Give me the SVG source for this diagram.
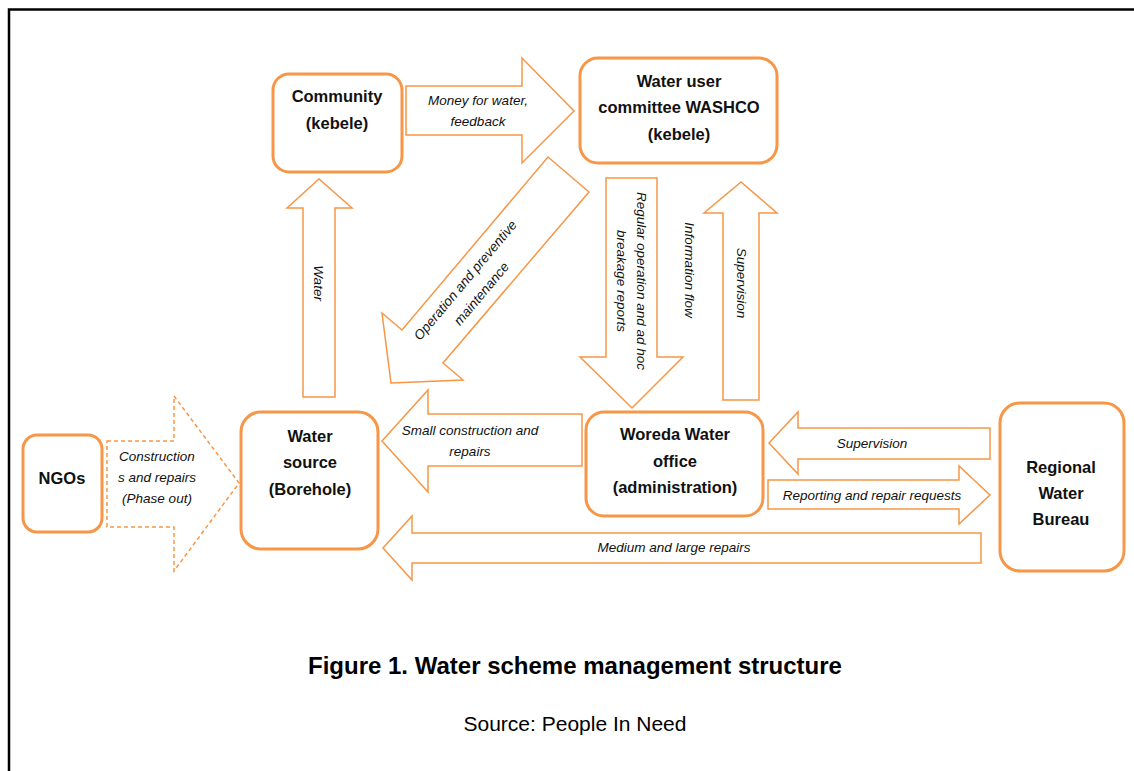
<svg xmlns="http://www.w3.org/2000/svg" width="1134" height="771" viewBox="0 0 1134 771">
<style>
.node{fill:#fff;stroke:#F79646;stroke-width:3}
.arr{fill:#fff;stroke:#F79646;stroke-width:1.5;stroke-linejoin:miter}
.dash{stroke-dasharray:4 3}
.nt{font-family:"Liberation Sans",Arial,sans-serif;font-weight:bold;font-size:16.5px;fill:#111;text-anchor:middle}
.lt{font-family:"Liberation Sans",Arial,sans-serif;font-style:italic;font-size:13.5px;fill:#111;text-anchor:middle}
.cap{font-family:"Liberation Sans",Arial,sans-serif;fill:#000;text-anchor:middle}
</style>
<rect width="1134" height="771" fill="#fff"/>
<path d="M9,771 V9.5 H1134" fill="none" stroke="#000" stroke-width="2.5"/>
<g id="connectors">
  <g id="money">
    <polygon class="arr" points="406,86 522,86 522,58 574,111 522,163 522,135 406,135"/>
    <text class="lt"><tspan x="478" y="105">Money for water,</tspan><tspan x="478" y="126">feedback</tspan></text>
  </g>
  <g id="water">
    <polygon class="arr" points="303,397 303,208 287,208 319,179 352,208 335,208 335,397"/>
    <text class="lt" transform="translate(319,283) rotate(90)" y="5">Water</text>
  </g>
  <g id="operation">
    <polygon class="arr" points="548,157 589,192 443,363 463,380 391,383 382,313 402,330"/>
    <text class="lt" transform="translate(465,280) rotate(-50)"><tspan x="0" y="5">Operation and preventive</tspan><tspan x="0" y="26">maintenance</tspan></text>
  </g>
  <g id="regular">
    <polygon class="arr" points="606,178 657,178 657,357 683,357 632,408 580,357 606,357"/>
    <text class="lt" transform="translate(632,281) rotate(90)"><tspan x="0" y="-5">Regular operation and ad hoc</tspan><tspan x="0" y="15">breakage reports</tspan></text>
  </g>
  <text class="lt" transform="translate(690,270) rotate(90)" y="5">Information flow</text>
  <g id="supervision-up">
    <polygon class="arr" points="723,400 723,213 704,213 741,182 777,213 759,213 759,400"/>
    <text class="lt" transform="translate(742,283) rotate(90)" y="5">Supervision</text>
  </g>
  <g id="ngo-arrow">
    <polygon class="arr dash" points="107,441 174,441 174,396 239,483 174,571 174,527 107,527"/>
    <text class="lt"><tspan x="157" y="461">Construction</tspan><tspan x="157" y="482">s and repairs</tspan><tspan x="157" y="503">(Phase out)</tspan></text>
  </g>
  <g id="small">
    <polygon class="arr" points="582,414 428,414 428,390 382,441 428,492 428,466 582,466"/>
    <text class="lt"><tspan x="470" y="435">Small construction and</tspan><tspan x="470" y="456">repairs</tspan></text>
  </g>
  <g id="medium">
    <polygon class="arr" points="981,533 412,533 412,516 383,548 412,580 412,563 981,563"/>
    <text class="lt" x="674" y="552">Medium and large repairs</text>
  </g>
  <g id="supervision-left">
    <polygon class="arr" points="990,428 798,428 798,412 769,443 798,474 798,459 990,459"/>
    <text class="lt" x="872" y="448">Supervision</text>
  </g>
  <g id="reporting">
    <polygon class="arr" points="768,480 959,480 959,466 990,495 959,524 959,509 768,509"/>
    <text class="lt" x="872" y="500">Reporting and repair requests</text>
  </g>
</g>
<g id="community">
  <rect class="node" x="273" y="74" width="129" height="98" rx="16"/>
  <text class="nt"><tspan x="337" y="102">Community</tspan><tspan x="337" y="129">(kebele)</tspan></text>
</g>
<g id="washco">
  <rect class="node" x="580" y="58" width="197" height="105" rx="18"/>
  <text class="nt"><tspan x="679" y="87">Water user</tspan><tspan x="679" y="113">committee WASHCO</tspan><tspan x="679" y="140">(kebele)</tspan></text>
</g>
<g id="ngos">
  <rect class="node" x="23" y="435" width="79" height="97" rx="14"/>
  <text class="nt" x="62" y="484">NGOs</text>
</g>
<g id="watersource">
  <rect class="node" x="241" y="412" width="137" height="137" rx="20"/>
  <text class="nt"><tspan x="310" y="442">Water</tspan><tspan x="310" y="468">source</tspan><tspan x="310" y="495">(Borehole)</tspan></text>
</g>
<g id="woreda">
  <rect class="node" x="586" y="412" width="177" height="104" rx="18"/>
  <text class="nt"><tspan x="675" y="440">Woreda Water</tspan><tspan x="675" y="467">office</tspan><tspan x="675" y="493">(administration)</tspan></text>
</g>
<g id="regional">
  <rect class="node" x="1000" y="403" width="124" height="168" rx="20"/>
  <text class="nt"><tspan x="1061" y="473">Regional</tspan><tspan x="1061" y="499">Water</tspan><tspan x="1061" y="525">Bureau</tspan></text>
</g>
<text class="cap" x="575" y="674" font-size="24" font-weight="bold">Figure 1. Water scheme management structure</text>
<text class="cap" x="575" y="731" font-size="21">Source: People In Need</text>
</svg>
